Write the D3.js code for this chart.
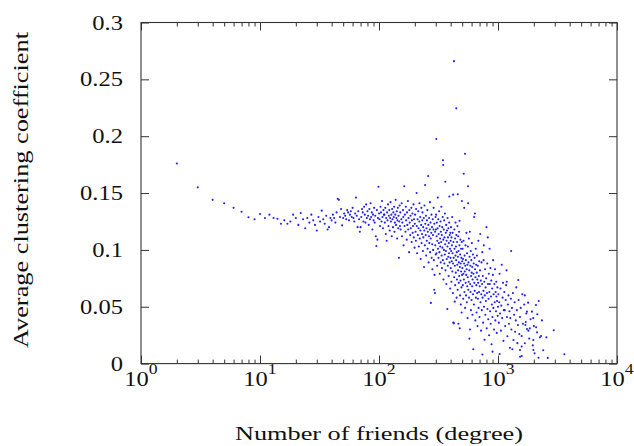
<!DOCTYPE html>
<html><head><meta charset="utf-8">
<script src="https://cdn.jsdelivr.net/npm/d3@7"></script>
<style>body{margin:0;background:#fff}svg{display:block}</style>
</head><body>
<svg id="chart" width="634" height="446"></svg>
<script>
// ---- data: [degree, average clustering coefficient] ----
const lowDegree = [[2,0.176],[3,0.155],[4,0.144],[5,0.141],[6,0.137],[7,0.1336],[8,0.1287],[9,0.127],[10,0.1316],
[11,0.128],[12,0.131],[13,0.128],[14,0.1274],[15,0.123],[16,0.126],[17,0.123],[18,0.125],[19,0.131],[20,0.128],
[21,0.122],[22,0.1325],[23,0.127],[24,0.119],[25,0.128],[26,0.124],[27,0.131],[28,0.126],[29,0.122],[30,0.117],
[31,0.129],[32,0.125],[33,0.1345],[34,0.127],[35,0.123],[36,0.130],[37,0.118],[38,0.120],[39,0.128],[40,0.126]];
const band40to100 = [[41,0.131],[42,0.128],[43,0.124],[44,0.133],[45,0.145],[46,0.144],[47,0.129],[48,0.136],[49,0.1216],[50,0.128],
[51,0.132],[52,0.130],[53,0.127],[54,0.135],[55,0.133],[56,0.126],[57,0.131],[58,0.134],[59,0.129],[60,0.137],
[61,0.128],[62,0.125],[63,0.132],[64,0.146],[65,0.130],[66,0.120],[67,0.134],[68,0.127],[69,0.116],[70,0.120],
[71,0.129],[72,0.136],[73,0.133],[74,0.125],[75,0.138],[76,0.131],[77,0.124],[78,0.140],[79,0.128],[80,0.134],
[81,0.130],[82,0.122],[83,0.136],[84,0.127],[85,0.141],[86,0.129],[87,0.133],[88,0.118],[89,0.131],[90,0.126],
[91,0.137],[92,0.124],[93,0.130],[94,0.112],[95,0.1034],[96,0.135],[97,0.109],[98,0.128],[99,0.1556],[100,0.132]];
const band100to200 = [[101,0.127],[102,0.121],[103,0.138],[104,0.133],[105,0.125],[106,0.143],[107,0.129],[108,0.119],[109,0.135],[110,0.131],
[111,0.131],[112,0.124],[113,0.137],[114,0.114],[115,0.128],[116,0.108],[117,0.133],[118,0.126],[119,0.140],[120,0.121],
[121,0.130],[122,0.135],[123,0.117],[124,0.128],[125,0.142],[126,0.125],[127,0.131],[128,0.112],[129,0.136],[130,0.127],
[131,0.120],[132,0.133],[133,0.129],[134,0.138],[135,0.116],[136,0.124],[137,0.131],[138,0.144],[139,0.122],[140,0.128],
[141,0.134],[142,0.110],[143,0.126],[144,0.137],[145,0.119],[146,0.130],[147,0.093],[148,0.125],[149,0.139],[150,0.121],
[151,0.133],[152,0.118],[154,0.127],[155,0.141],[156,0.112],[157,0.124],[159,0.135],[160,0.129],[161,0.104],[163,0.156],
[164,0.121],[165,0.131],[167,0.116],[168,0.138],[169,0.126],[171,0.109],[172,0.133],[173,0.122],[175,0.143],[176,0.118],
[177,0.128],[179,0.098],[180,0.135],[181,0.124],[183,0.113],[184,0.130],[185,0.119],[187,0.137],[188,0.107],[189,0.126],
[191,0.132],[192,0.115],[193,0.121],[195,0.140],[196,0.111],[197,0.127],[199,0.102],[200,0.123]];
const band200to300 = [[201,0.131],[203,0.116],[204,0.108],[205,0.136],[207,0.150],[208,0.121],[209,0.097],[211,0.127],[212,0.113],[214,0.134],
[215,0.119],[216,0.103],[218,0.125],[219,0.141],[220,0.110],[222,0.129],[223,0.117],[224,0.092],[226,0.122],[227,0.137],
[228,0.106],[230,0.114],[231,0.126],[232,0.133],[234,0.099],[235,0.120],[236,0.111],[238,0.128],[239,0.085],[240,0.117],
[241,0.139],[243,0.104],[244,0.157],[245,0.123],[247,0.113],[248,0.130],[249,0.095],[251,0.119],[252,0.108],[253,0.126],
[255,0.135],[256,0.101],[257,0.116],[259,0.165],[260,0.122],[261,0.089],[263,0.112],[264,0.128],[265,0.106],[267,0.118],
[268,0.142],[269,0.098],[271,0.124],[272,0.110],[273,0.0534],[275,0.115],[276,0.131],[277,0.093],[279,0.120],[280,0.105],
[281,0.083],[283,0.127],[284,0.113],[285,0.100],[287,0.118],[288,0.137],[289,0.091],[291,0.065],[292,0.123],[293,0.078],
[295,0.062],[296,0.116],[297,0.104],[299,0.129],[300,0.096],[303,0.1975]];
const band300to400 = [[301,0.118],[302,0.131],[304,0.097],[305,0.112],[306,0.124],[308,0.086],[309,0.108],[311,0.119],[312,0.146],[313,0.101],
[315,0.127],[316,0.093],[317,0.114],[319,0.106],[320,0.134],[322,0.098],[323,0.121],[324,0.079],[326,0.110],[327,0.103],
[329,0.125],[330,0.089],[331,0.116],[333,0.107],[334,0.138],[336,0.095],[337,0.113],[338,0.084],[340,0.120],[341,0.102],
[343,0.129],[344,0.091],[345,0.1788],[346,0.1747],[347,0.109],[348,0.074],[350,0.118],[351,0.100],[353,0.126],[354,0.088],
[355,0.111],[357,0.096],[358,0.132],[360,0.105],[361,0.160],[362,0.082],[364,0.115],[365,0.099],[367,0.122],[368,0.070],
[370,0.108],[371,0.092],[373,0.117],[375,0.048],[376,0.103],[377,0.128],[379,0.086],[380,0.111],[382,0.094],[383,0.119],
[385,0.077],[386,0.106],[388,0.097],[389,0.124],[390,0.147],[392,0.089],[393,0.113],[395,0.101],[396,0.066],[398,0.115],
[399,0.093],[400,0.108]];
const band400to500 = [[401,0.084],[403,0.120],[404,0.099],[406,0.072],[407,0.111],[409,0.090],[410,0.104],[412,0.129],[413,0.081],[415,0.097],
[416,0.115],[418,0.062],[419,0.088],[420,0.1486],[421,0.036],[422,0.107],[424,0.093],[426,0.0354],[427,0.266],[428,0.076],
[430,0.118],[431,0.101],[433,0.0545],[434,0.086],[436,0.110],[437,0.069],[439,0.095],[440,0.124],[442,0.080],[443,0.103],
[445,0.091],[446,0.2245],[447,0.113],[449,0.058],[450,0.098],[452,0.074],[453,0.107],[455,0.087],[456,0.121],[458,0.065],
[459,0.149],[460,0.094],[462,0.082],[463,0.112],[465,0.035],[466,0.099],[468,0.071],[469,0.089],[471,0.116],[472,0.077],
[474,0.104],[475,0.1257],[477,0.031],[478,0.085],[480,0.060],[481,0.096],[483,0.109],[484,0.073],[486,0.088],[487,0.052],
[489,0.101],[490,0.081],[492,0.093],[493,0.067],[495,0.045],[496,0.107],[497,0.143],[499,0.078],[500,0.090]];
const band500to700 = [[502,0.084],[504,0.101],[506,0.069],[508,0.092],[510,0.057],[512,0.079],[513,0.108],[515,0.167],[517,0.074],[519,0.088],
[520,0.137],[522,0.063],[524,0.095],[526,0.081],[528,0.1846],[529,0.049],[531,0.086],[533,0.104],[535,0.071],[537,0.091],
[539,0.060],[541,0.078],[543,0.115],[545,0.083],[547,0.054],[549,0.097],[551,0.068],[553,0.087],[555,0.040],[557,0.076],
[558,0.103],[560,0.156],[561,0.141],[563,0.065],[565,0.089],[567,0.072],[569,0.110],[571,0.058],[573,0.082],[575,0.022],
[577,0.094],[580,0.116],[582,0.030],[584,0.070],[586,0.086],[588,0.063],[590,0.099],[592,0.047],[594,0.077],[597,0.091],
[599,0.056],[601,0.080],[603,0.106],[606,0.068],[608,0.085],[610,0.043],[612,0.074],[615,0.096],[617,0.061],[620,0.0126],
[622,0.079],[625,0.088],[627,0.052],[630,0.129],[632,0.071],[635,0.093],[637,0.064],[640,0.132],[642,0.083],[645,0.038],
[647,0.076],[650,0.101],[652,0.058],[655,0.087],[658,0.069],[660,0.045],[663,0.080],[665,0.095],[668,0.062],[670,0.074],
[673,0.033],[676,0.086],[678,0.057],[681,0.071],[684,0.108],[687,0.049],[690,0.077],[693,0.063],[696,0.090],[699,0.041]];
const band700to1000 = [[702,0.068],[706,0.082],[710,0.114],[713,0.054],[717,0.073],[720,0.029],[724,0.061],[727,0.089],[731,0.047],[735,0.070],
[738,0.098],[740,0.008],[742,0.058],[746,0.077],[750,0.036],[754,0.064],[757,0.091],[760,0.104],[763,0.050],[767,0.072],
[771,0.021],[775,0.060],[779,0.083],[783,0.043],[787,0.067],[791,0.055],[795,0.075],[800,0.120],[804,0.031],[808,0.062],
[812,0.088],[816,0.048],[820,0.111],[824,0.070],[828,0.039],[833,0.057],[837,0.079],[842,0.025],[846,0.063],[850,0.101],
[853,0.070],[858,0.046],[863,0.084],[868,0.035],[873,0.059],[878,0.073],[883,0.017],[888,0.052],[893,0.066],[898,0.041],
[900,0.0105],[905,0.078],[910,0.091],[915,0.049],[920,0.061],[926,0.030],[932,0.070],[938,0.054],[944,0.083],[950,0.038],
[956,0.063],[962,0.046],[968,0.072],[970,0.059],[976,0.027],[982,0.055],[988,0.067],[994,0.042],[1000,0.050]];
const band1000to2000 = [[1008,0.061],[1016,0.036],[1024,0.054],[1030,0.079],[1032,0.0085],[1040,0.044],[1049,0.066],[1058,0.029],[1066,0.051],[1075,0.087],
[1084,0.040],[1093,0.058],[1102,0.071],[1111,0.020],[1120,0.047],[1130,0.063],[1140,0.047],[1150,0.033],[1160,0.056],[1170,0.069],
[1180,0.082],[1185,0.072],[1190,0.041],[1200,0.024],[1212,0.052],[1224,0.060],[1236,0.035],[1248,0.046],[1260,0.014],[1270,0.040],
[1283,0.057],[1290,0.099],[1296,0.030],[1310,0.049],[1320,0.0126],[1335,0.062],[1350,0.0207],[1365,0.043],[1380,0.054],[1395,0.028],
[1410,0.038],[1425,0.067],[1440,0.047],[1455,0.018],[1470,0.034],[1480,0.0735],[1490,0.056],[1510,0.026],[1530,0.041],[1531,0.012],
[1532,0.006],[1550,0.049],[1580,0.0243],[1581,0.015],[1582,0.0067],[1600,0.061],[1620,0.035],[1660,0.052],[1680,0.060],[1681,0.0179],
[1700,0.034],[1710,0.0366],[1730,0.044],[1750,0.0457],[1751,0.0304],[1790,0.0536],[1800,0.029],[1830,0.022],[1850,0.031],[1880,0.039],
[1930,0.0457],[1960,0.016],[1980,0.040],[1981,0.0208],[1982,0.012],[2000,0.033]];
const highDegree = [[2030,0.009],[2085,0.0515],[2090,0.032],[2130,0.0275],[2140,0.0434],[2190,0.0052],[2200,0.055],[2250,0.0231],
[2300,0.0243],[2340,0.038],[2400,0.0117],[2550,0.0231],[2620,0.005],[2940,0.0293],[3610,0.0082]];

const xDomain = [1, 10000];
const yDomain = [0, 0.3];
const xMajorTicks = [1, 10, 100, 1000, 10000];
const xTickExponents = ["0", "1", "2", "3", "4"];
const yTicks = [0, 0.05, 0.1, 0.15, 0.2, 0.25, 0.3];
const yTickLabels = ["0", "0.05", "0.1", "0.15", "0.2", "0.25", "0.3"];
const xTitle = "Number of friends (degree)";
const yTitle = "Average clustering coefficient";

const points = [].concat(lowDegree, band40to100, band100to200, band200to300, band300to400,
  band400to500, band500to700, band700to1000, band1000to2000, highDegree);

const svg = d3.select("#chart");
const L = 141, R = 617, T = 22.5, B = 363.6;
const x = d3.scaleLog().domain(xDomain).range([L, R]);
const y = d3.scaleLinear().domain(yDomain).range([B, T]);
const FONT = "\"Liberation Serif\", \"DejaVu Serif\", serif";
const ink = "#333";

// font size giving digit height ~14px, horizontal stretch giving "0.25" ~43px wide
const cv = document.createElement("canvas").getContext("2d");
cv.font = `100px ${FONT}`;
const digitH = cv.measureText("0").actualBoundingBoxAscent / 100;
const FS = Math.min(22, Math.max(17, 14 / digitH));
cv.font = `${FS}px ${FONT}`;
const SX = 43 / cv.measureText("0.25").width;

const minorTicks = [];
for (let e = 0; e < 4; e++) for (let m = 2; m <= 9; m++) minorTicks.push(m * Math.pow(10, e));

function styleAxis(g) {
  g.select(".domain").remove();
  g.selectAll(".tick line").attr("stroke", ink).attr("stroke-width", 1);
  g.selectAll(".tick text").remove();
}
svg.append("g").attr("transform", `translate(0,${B})`)
  .call(d3.axisBottom(x).tickValues(xMajorTicks).tickSize(-8)).call(styleAxis);
svg.append("g").attr("transform", `translate(0,${B})`)
  .call(d3.axisBottom(x).tickValues(minorTicks).tickSize(-4)).call(styleAxis);
svg.append("g").attr("transform", `translate(0,${T})`)
  .call(d3.axisTop(x).tickValues(xMajorTicks).tickSize(-8)).call(styleAxis);
svg.append("g").attr("transform", `translate(0,${T})`)
  .call(d3.axisTop(x).tickValues(minorTicks).tickSize(-4)).call(styleAxis);
svg.append("g").attr("transform", `translate(${L},0)`)
  .call(d3.axisLeft(y).tickValues(yTicks).tickSize(-8)).call(styleAxis);
svg.append("g").attr("transform", `translate(${R},0)`)
  .call(d3.axisRight(y).tickValues(yTicks).tickSize(-8)).call(styleAxis);

svg.append("rect").attr("x", L).attr("y", T).attr("width", R - L).attr("height", B - T)
  .attr("fill", "none").attr("stroke", ink).attr("stroke-width", 1.1);

svg.append("g").selectAll("circle").data(points).join("circle")
  .attr("cx", d => x(d[0])).attr("cy", d => y(d[1])).attr("r", 1.05)
  .attr("fill", "#1f1ff5");

svg.append("g").selectAll("g").data(yTicks).join("g")
  .attr("transform", d => `translate(123,${y(d) + 7}) scale(${SX},1)`)
  .append("text").attr("text-anchor", "end")
  .attr("font-family", FONT).attr("font-size", FS).attr("fill", "#111")
  .text((d, i) => yTickLabels[i]);

const xl = svg.append("g").selectAll("g").data(xMajorTicks).join("g")
  .attr("transform", d => `translate(${x(d)},386) scale(${SX},1)`)
  .append("text").attr("text-anchor", "middle")
  .attr("font-family", FONT).attr("font-size", FS).attr("fill", "#111");
xl.append("tspan").text("10");
xl.append("tspan").attr("dy", -12).attr("font-size", FS * 0.72).text((d, i) => xTickExponents[i]);

svg.append("text").attr("x", (L + R) / 2).attr("y", 440).attr("text-anchor", "middle")
  .attr("font-family", FONT).attr("font-size", FS * 0.92).attr("fill", "#111")
  .attr("textLength", 288).attr("lengthAdjust", "spacingAndGlyphs").text(xTitle);
svg.append("text").attr("transform", "translate(28,190) rotate(-90)").attr("text-anchor", "middle")
  .attr("font-family", FONT).attr("font-size", FS * 0.95).attr("fill", "#111")
  .attr("textLength", 316).attr("lengthAdjust", "spacingAndGlyphs").text(yTitle);
</script>
</body></html>
